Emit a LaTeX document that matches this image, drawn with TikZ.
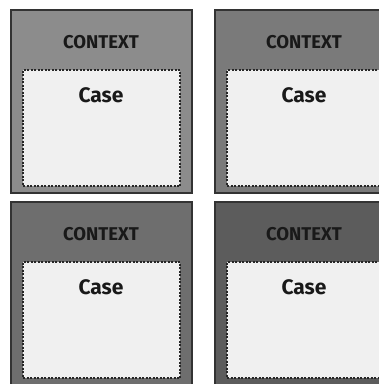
\documentclass[tikz,border=0pt]{standalone}
\usepackage{fontspec}
\setmainfont{Fira Sans}
\begin{document}
\begin{tikzpicture}[x=1pt,y=-1pt,
  outerbox/.style={draw=black!80,line width=1.6pt,minimum width=181pt,minimum height=183pt,inner sep=0pt,outer sep=0pt},
  innerbox/.style={draw=black!85,fill=black!6,line width=1.6pt,dash pattern=on 2pt off 1.5pt,minimum width=157pt,minimum height=116pt,inner sep=0pt,outer sep=0pt},
  ctxlabel/.style={font=\fontsize{18.5}{18.5}\selectfont\bfseries,text=black!90,inner sep=0pt},
  caselabel/.style={font=\fontsize{21}{21}\selectfont\bfseries,text=black!90,inner sep=0pt}]
\useasboundingbox (0,0) rectangle (379,384);
\clip (0,0) rectangle (379,384);
% panel 1
\node[outerbox,fill=black!45] (o1) at (101.5,101.5) {};
\node[innerbox] (i1) at (101.5,128) {};
\node[ctxlabel] (c1) at (101,42) {CONTEXT};
\node[caselabel] (k1) at (101,95) {Case};
% panel 2
\node[outerbox,fill=black!52] (o2) at (305.5,101.5) {};
\node[innerbox] (i2) at (305.5,128) {};
\node[ctxlabel] (c2) at (304,42) {CONTEXT};
\node[caselabel] (k2) at (304,95) {Case};
% panel 3
\node[outerbox,fill=black!57] (o3) at (101.5,293.5) {};
\node[innerbox] (i3) at (101.5,320) {};
\node[ctxlabel] (c3) at (101,234) {CONTEXT};
\node[caselabel] (k3) at (101,287) {Case};
% panel 4
\node[outerbox,fill=black!64] (o4) at (305.5,293.5) {};
\node[innerbox] (i4) at (305.5,320) {};
\node[ctxlabel] (c4) at (304,234) {CONTEXT};
\node[caselabel] (k4) at (304,287) {Case};
\end{tikzpicture}
\end{document}
